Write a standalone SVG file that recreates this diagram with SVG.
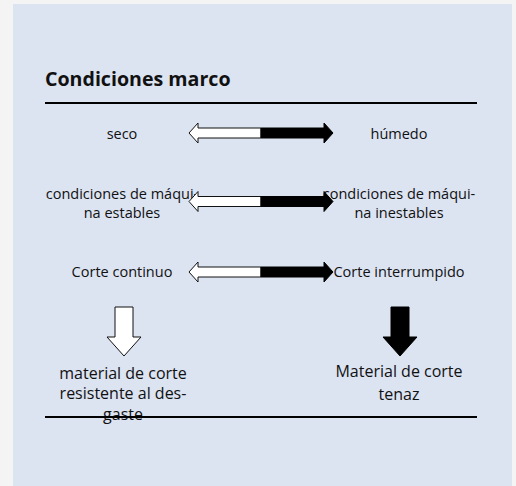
<svg xmlns="http://www.w3.org/2000/svg" width="516" height="486" viewBox="0 0 516 486">
<style>
.t{font-family:"Open Sans","Liberation Sans",sans-serif;font-size:14.5px;fill:#111;text-anchor:middle}
.b{font-family:"Open Sans","Liberation Sans",sans-serif;font-size:16px;fill:#111;text-anchor:middle}
.h{font-family:"Open Sans","Liberation Sans",sans-serif;font-size:19.6px;font-weight:bold;fill:#111}
.w{fill:#fff;stroke:#111;stroke-width:1}
.k{fill:#000;stroke:#000;stroke-width:1}
.rule{stroke:#000;stroke-width:2}
</style>
<defs>
<g id="dbl">
<polygon class="w" points="189,0 198,-10 198,-5 261,-5 261,5 198,5 198,10"/>
<polygon class="k" points="261,-5 324,-5 324,-10 333,0 324,10 324,5 261,5"/>
</g>
</defs>
<rect x="0" y="0" width="516" height="486" fill="#f4f4f4"/>
<rect x="13" y="4" width="499" height="482" fill="#dce3f1"/>
<g id="title"><text class="h" x="45" y="86">Condiciones marco</text></g>
<g id="row1">
<text class="t" x="122" y="139">seco</text>
<text class="t" x="399" y="139">húmedo</text>
</g>
<g id="row2">
<text class="t" x="122" y="199">condiciones de máqui-</text>
<text class="t" x="122" y="218">na estables</text>
<text class="t" x="399" y="199">condiciones de máqui-</text>
<text class="t" x="399" y="218">na inestables</text>
</g>
<g id="row3">
<text class="t" x="122" y="277">Corte continuo</text>
<text class="t" x="399" y="277">Corte interrumpido</text>
</g>
<g id="result-left">
<text class="b" x="123" y="379">material de corte</text>
<text class="b" x="123" y="399">resistente al des-</text>
<text class="b" x="123" y="420">gaste</text>
</g>
<g id="result-right">
<text class="b" x="399" y="377">Material de corte</text>
<text class="b" x="399" y="400">tenaz</text>
</g>
<g id="connectors">
<use href="#dbl" transform="translate(0,133)"/>
<use href="#dbl" transform="translate(0,201.5)"/>
<use href="#dbl" transform="translate(0,272)"/>
<polygon class="w" points="115,307 133,307 133,337 141,337 124,356 107,337 115,337"/>
<polygon class="k" points="391,307 409,307 409,337 417,337 400,356 383,337 391,337"/>
<line class="rule" x1="45" y1="103" x2="477" y2="103"/>
<line class="rule" x1="45" y1="417" x2="477" y2="417"/>
</g>
</svg>
